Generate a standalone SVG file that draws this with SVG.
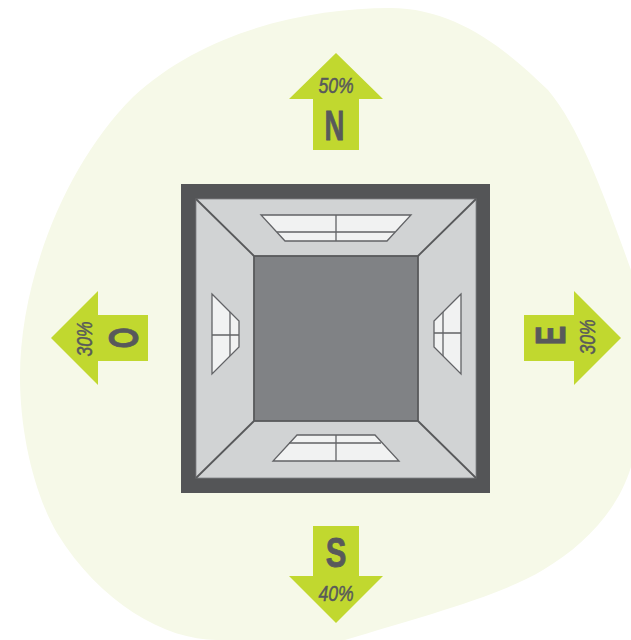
<svg xmlns="http://www.w3.org/2000/svg" width="631" height="640" viewBox="0 0 631 640">
<style>
.arrow{fill:#c1d82f}
.dir{font-family:"Liberation Sans",Arial,sans-serif;font-weight:700;font-size:43px;fill:#58595b;stroke:#58595b;stroke-width:.9;text-anchor:middle}
.pct{font-family:"Liberation Sans",Arial,sans-serif;font-style:italic;font-size:22px;font-weight:400;fill:#58595b;stroke:#58595b;stroke-width:.5;text-anchor:middle}
.wall{fill:#d1d3d4;stroke:#808285;stroke-width:.8}
.edge{stroke:#58595b;stroke-width:1.8;fill:none}
.win{fill:#f1f2f2;stroke:#626366;stroke-width:1.3}
.bar{stroke:#626366;stroke-width:1.3;fill:none}
</style>
<rect width="631" height="640" fill="#ffffff"/>
<path id="background" fill="#f6f9e8" d="M390 8C455 8 505 48 548 90C580 128 604 195 631 270L631 467C618 510 585 545 543 570C500 596 420 617 345 640L217 640C165 640 100 603 57 533C35 495 20 435 20 377C20 280 65 165 133 97C205 30 310 8 390 8Z"/>
<g id="room">
<rect x="181" y="184" width="309" height="309" fill="#545557"/>
<rect class="wall" x="196" y="199" width="280" height="279"/>
<rect x="254" y="256" width="164" height="165" fill="#808285" stroke="#58595b" stroke-width="1.8"/>
<path class="edge" d="M196 199L254 256M476 199L418 256M196 478L254 421M476 478L418 421"/>
</g>
<g id="window-north">
<path class="win" d="M261 215H411L387 241H285Z"/>
<path class="bar" d="M336 215V241M277 232H395"/>
</g>
<g id="window-south">
<path class="win" d="M297 435H375L399 461H273Z"/>
<path class="bar" d="M336 435V461M289 443H381"/>
</g>
<g id="window-west">
<path class="win" d="M212 294L239 321V347L212 374Z"/>
<path class="bar" d="M230 312V356M212 335H239"/>
</g>
<g id="window-east">
<path class="win" d="M461 294L434 321V347L461 374Z"/>
<path class="bar" d="M443 312V356M434 333H461"/>
</g>
<g id="arrow-north">
<path class="arrow" d="M336 53L383 99H359V150H313V99H289Z"/>
<text class="pct" transform="translate(336 93) scale(.8 1)">50%</text>
<text class="dir" transform="translate(334.500 140) scale(.64 1)">N</text>
</g>
<g id="arrow-south">
<path class="arrow" d="M313 526H359V576H383L336 623L289 576H313Z"/>
<text class="pct" transform="translate(336 601) scale(.8 1)">40%</text>
<text class="dir" transform="translate(336 567) scale(.72 1)">S</text>
</g>
<g id="arrow-west">
<path class="arrow" d="M51 338L98 291V315H148V361H98V385Z"/>
<text class="pct" transform="translate(92 339) rotate(-90) scale(.8 1)">30%</text>
<text class="dir" transform="translate(138 338) rotate(-90) scale(.62 1)">O</text>
</g>
<g id="arrow-east">
<path class="arrow" d="M524 315H574V291L621 338L574 385V361H524Z"/>
<text class="pct" transform="translate(595 337) rotate(-90) scale(.8 1)">30%</text>
<text class="dir" transform="translate(565 335.500) rotate(-90) scale(.68 1)">E</text>
</g>
</svg>
